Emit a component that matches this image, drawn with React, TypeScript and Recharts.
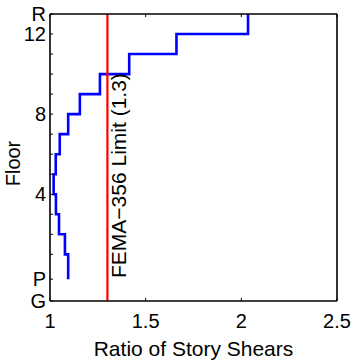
import { LineChart, Line, XAxis, YAxis, ReferenceLine } from 'recharts'

// floor levels from ground to roof, in floor units (P level sits a bit below 0)
const levelLabels = ['G', 'P', '', '', '', '4', '', '', '', '8', '', '', '', '12', 'R']
const levelElev = [-1.33, -0.24, 1, 2, 3, 4, 5, 6, 7, 8, 9, 10, 11, 12, 13]

// ratio of story shears, one per story from P up to R
const storyRatios = [1.095, 1.078, 1.047, 1.031, 1.019, 1.03, 1.051, 1.095, 1.156, 1.261, 1.414, 1.661, 2.035]

const xTicks = [1, 1.5, 2, 2.5]
const femaLimit = 1.3

// stairs: each point is the story ratio at its lower level, last point closes at the roof
const data = [
  ...storyRatios.map((r, i) => ({ ratio: r, elev: levelElev[i + 1] })),
  { ratio: storyRatios[storyRatios.length - 1], elev: levelElev[levelElev.length - 1] },
]

const FONT = '"Liberation Sans", Arial, Helvetica, sans-serif'
const TICK_LEN = 3

const BottomTick = (props: any) => {
  const { x, y, payload } = props
  return (
    <g>
      <line x1={x} x2={x} y1={y} y2={y - TICK_LEN} stroke="#000" strokeWidth={1} />
      <text x={x} y={y + 27} textAnchor="middle" fontSize={20} fontFamily={FONT} fill="#000">
        {payload.value}
      </text>
    </g>
  )
}

const TopTick = (props: any) => {
  const { x, y } = props
  return <line x1={x} x2={x} y1={y} y2={y + TICK_LEN} stroke="#000" strokeWidth={1} />
}

const LeftTick = (props: any) => {
  const { x, y, index } = props
  return (
    <g>
      <line x1={x} x2={x + TICK_LEN} y1={y} y2={y} stroke="#000" strokeWidth={1} />
      <text x={x - 4} y={y} dy="0.36em" textAnchor="end" fontSize={20} fontFamily={FONT} fill="#000">
        {levelLabels[index]}
      </text>
    </g>
  )
}

const RightTick = (props: any) => {
  const { x, y } = props
  return <line x1={x} x2={x - TICK_LEN} y1={y} y2={y} stroke="#000" strokeWidth={1} />
}

const XLabel = (props: any) => {
  const { x, y, width } = props.viewBox
  return (
    <text x={x + width / 2} y={y + 55} textAnchor="middle" fontSize={21} fontFamily={FONT} fill="#000">
      Ratio of Story Shears
    </text>
  )
}

const YLabel = (props: any) => {
  const { y, height } = props.viewBox
  const cy = y + height / 2 + 6
  return (
    <text x={20} y={cy} transform={`rotate(-90 20 ${cy})`} textAnchor="middle" fontSize={20} fontFamily={FONT} fill="#000">
      Floor
    </text>
  )
}

const LimitLabel = (props: any) => {
  const { x, y, height } = props.viewBox
  const tx = x + 19
  const ty = y + height - 23
  return (
    <text x={tx} y={ty} transform={`rotate(-90 ${tx} ${ty})`} textAnchor="start" fontSize={21} fontFamily={FONT} fill="#000">
      FEMA−356 Limit (1.3)
    </text>
  )
}

const axisLine = { stroke: '#000', strokeWidth: 1.6 }
const yDomain = [levelElev[0], levelElev[levelElev.length - 1]]

export default function App() {
  return (
    <div style={{ position: 'absolute', left: 0, top: 0, background: '#fff' }}>
      <LineChart width={353} height={364} data={data} margin={{ top: 13, right: 15, bottom: 0, left: 0 }}>
        <XAxis
          xAxisId="b" type="number" dataKey="ratio" domain={[1, 2.5]} ticks={xTicks}
          height={63} interval={0} tickSize={0} tickMargin={0} tickLine={false}
          axisLine={axisLine} tick={<BottomTick />} label={<XLabel />}
        />
        {/* top and right axes only close the box and carry inward ticks */}
        <XAxis
          xAxisId="t" orientation="top" type="number" dataKey="ratio" domain={[1, 2.5]} ticks={xTicks}
          height={1} interval={0} tickSize={0} tickMargin={0} tickLine={false}
          axisLine={axisLine} tick={<TopTick />}
        />
        <YAxis
          yAxisId="l" type="number" domain={yDomain} ticks={levelElev}
          width={50} interval={0} tickSize={0} tickMargin={0} tickLine={false}
          axisLine={axisLine} tick={<LeftTick />} label={<YLabel />}
        />
        <YAxis
          yAxisId="r" orientation="right" type="number" domain={yDomain} ticks={levelElev}
          width={1} interval={0} tickSize={0} tickMargin={0} tickLine={false}
          axisLine={axisLine} tick={<RightTick />}
        />
        <Line
          xAxisId="b" yAxisId="l" dataKey="elev" type="stepBefore"
          stroke="#0000ff" strokeWidth={2.6} dot={false} activeDot={false} isAnimationActive={false}
        />
        <ReferenceLine
          xAxisId="b" yAxisId="l" x={femaLimit}
          stroke="#ff0000" strokeWidth={2.2} label={<LimitLabel />}
        />
      </LineChart>
    </div>
  )
}
